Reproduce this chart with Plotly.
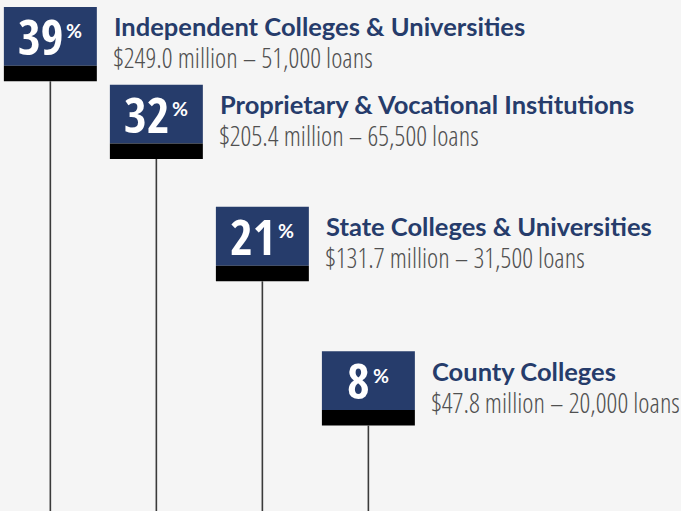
import plotly.graph_objects as go

categories = ["Independent Colleges & Universities",
              "Proprietary & Vocational Institutions",
              "State Colleges & Universities",
              "County Colleges"]
percents = [39, 32, 21, 8]
amounts = ["$249.0 million", "$205.4 million", "$131.7 million", "$47.8 million"]
loans = ["51,000 loans", "65,500 loans", "31,500 loans", "20,000 loans"]

NAVY = "#263c6b"
BG = "#f5f5f5"
FLAG_H = 5.3     # navy flag height (y units)
STRIP_H = 1.4    # black strip height (y units)
BAR_W = 0.877
idx = list(range(len(categories)))

fig = go.Figure()
fig.add_trace(go.Bar(x=idx, y=[FLAG_H] * len(idx),
                     base=[p - FLAG_H for p in percents], width=BAR_W,
                     marker=dict(color=NAVY, line_width=0), hoverinfo="skip"))
fig.add_trace(go.Bar(x=idx, y=[STRIP_H] * len(idx),
                     base=[p - FLAG_H - STRIP_H for p in percents], width=BAR_W,
                     marker=dict(color="#000000", line_width=0), hoverinfo="skip"))
for i, p in zip(idx, percents):
    fig.add_trace(go.Scatter(x=[i, i], y=[p - FLAG_H - STRIP_H, -20], mode="lines",
                             line=dict(color="#3a3a3a", width=1.6), hoverinfo="skip"))

annotations = []
for i, p, c, a, l in zip(idx, percents, categories, amounts, loans):
    num_w = 22.5 * len(str(p))
    pct_w = 17
    gap = 1
    total = num_w + gap + pct_w
    num_right = -total / 2 + num_w
    annotations.append(dict(x=i, y=p, xref="x", yref="y", text=str(p),
                            showarrow=False, xanchor="right", yanchor="middle",
                            xshift=num_right, yshift=-29, borderpad=0,
                            font=dict(family="Open Sans Condensed", size=49, weight=700, color="white")))
    annotations.append(dict(x=i, y=p, xref="x", yref="y", text="%",
                            showarrow=False, xanchor="left", yanchor="middle",
                            xshift=num_right + gap, yshift=-24, borderpad=0,
                            font=dict(family="Lato", size=19.5, weight=700, color="white")))
    annotations.append(dict(x=i, y=p, xref="x", yref="y", text=c,
                            showarrow=False, xanchor="left", yanchor="middle",
                            xshift=BAR_W * 106 / 2 + 16, yshift=-19.5, borderpad=0,
                            font=dict(family="Lato", size=25.5, weight=700, color=NAVY)))
    annotations.append(dict(x=i, y=p, xref="x", yref="y", text="%s – %s" % (a, l),
                            showarrow=False, xanchor="left", yanchor="middle",
                            xshift=BAR_W * 106 / 2 + 15, yshift=-51, borderpad=0,
                            font=dict(family="Open Sans Condensed Light", size=27, color="#505050")))

fig.update_layout(
    width=681, height=511,
    margin=dict(l=0, r=0, t=0, b=0),
    paper_bgcolor=BG, plot_bgcolor=BG,
    barmode="overlay", showlegend=False,
    xaxis=dict(range=[-0.475, 5.949], visible=False, fixedrange=True),
    yaxis=dict(range=[-6.4, 39.63], visible=False, fixedrange=True),
    annotations=annotations,
)
fig.write_html("out.html", config={"displayModeBar": False},
               post_script="document.body.style.margin='0';document.body.style.overflow='hidden';document.body.style.background='%s';" % BG)
